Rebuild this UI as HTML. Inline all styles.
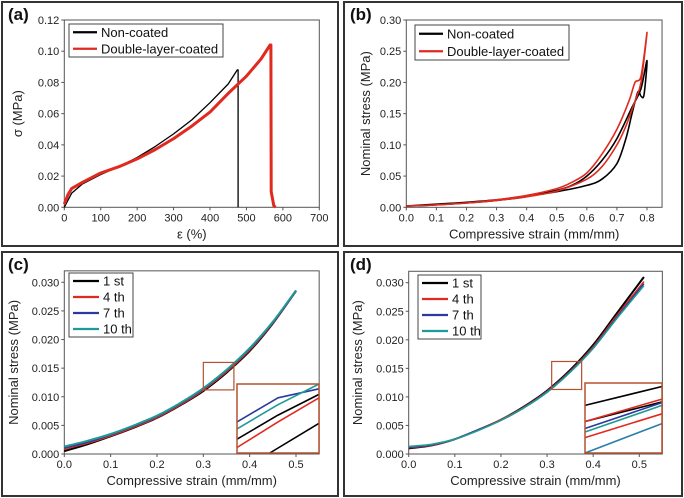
<!DOCTYPE html>
<html><head><meta charset="utf-8"><style>
html,body{margin:0;padding:0;background:#fff;}
svg{display:block;font-family:"Liberation Sans",Arial,sans-serif;}
</style></head><body>
<svg id="fig" width="684" height="498" viewBox="0 0 684 498"></svg>
<script>
// ---- Panel (a) data ----
const aNonX=[0,20,50,100,150,200,250,300,350,400,450,475,477,477];
const aNonY=[0,0.009,0.015,0.021,0.026,0.032,0.039,0.047,0.056,0.067,0.079,0.088,0.088,0];
const aDblX=[0,10,20,50,100,150,200,250,300,350,400,450,500,540,565,567,568,575,580];
const aDblY=[0.002,0.008,0.012,0.016,0.022,0.026,0.031,0.037,0.044,0.052,0.061,0.073,0.084,0.095,0.104,0.104,0.01,0.001,0];
const aXTicks=[0,100,200,300,400,500,600,700];
const aYTicks=[0,0.02,0.04,0.06,0.08,0.10,0.12];
// ---- Panel (b) data ----
const bNonX=[0,0.1,0.2,0.3,0.4,0.5,0.6,0.65,0.7,0.73,0.75,0.77,0.78,0.79,0.8,0.78,0.75,0.7,0.65,0.6,0.55,0.5,0.4,0.3,0.2,0.1,0];
const bNonY=[0.002,0.005,0.008,0.012,0.018,0.025,0.035,0.045,0.07,0.11,0.15,0.185,0.178,0.18,0.235,0.19,0.16,0.11,0.075,0.05,0.035,0.027,0.017,0.011,0.007,0.004,0.002];
const bDblX=[0,0.1,0.2,0.3,0.4,0.5,0.6,0.65,0.7,0.73,0.76,0.78,0.8,0.78,0.76,0.74,0.7,0.65,0.6,0.55,0.5,0.4,0.3,0.2,0.1,0];
const bDblY=[0.002,0.004,0.007,0.011,0.017,0.026,0.045,0.065,0.1,0.13,0.17,0.2,0.28,0.21,0.2,0.17,0.125,0.085,0.055,0.04,0.03,0.019,0.012,0.007,0.004,0.002];
const bXTicks=[0,0.1,0.2,0.3,0.4,0.5,0.6,0.7,0.8];
const bYTicks=[0,0.05,0.10,0.15,0.20,0.25,0.30];
// ---- Panel (c) data ----
const cX=[0,0.05,0.1,0.15,0.2,0.25,0.3,0.35,0.4,0.45,0.5];
const c1st=[0.0005,0.0017,0.0031,0.0046,0.0063,0.0085,0.011,0.0142,0.018,0.0228,0.0285];
const c4th=[0.0009,0.0019,0.0032,0.0047,0.0064,0.0086,0.0112,0.0144,0.0182,0.0229,0.0285];
const c7th=[0.0011,0.0021,0.0034,0.0049,0.0066,0.0088,0.0114,0.0146,0.0184,0.023,0.0285];
const c10th=[0.0013,0.0023,0.0035,0.005,0.0067,0.0089,0.0115,0.0147,0.0185,0.0231,0.0286];
const cXTicks=[0,0.1,0.2,0.3,0.4,0.5];
const cYTicks=[0,0.005,0.010,0.015,0.020,0.025,0.030];
// ---- Panel (d) data ----
const dX=[0,0.05,0.1,0.15,0.2,0.25,0.3,0.35,0.4,0.45,0.51];
const d1st=[0.001,0.0015,0.0026,0.0042,0.006,0.0083,0.0111,0.0147,0.0191,0.0245,0.031];
const d4th=[0.0011,0.0015,0.0026,0.0042,0.006,0.0082,0.011,0.0145,0.0188,0.0241,0.0302];
const d7th=[0.0012,0.0016,0.0026,0.0042,0.0059,0.0081,0.0109,0.0144,0.0186,0.0238,0.0298];
const d10th=[0.0013,0.0017,0.0026,0.0041,0.0059,0.0081,0.0108,0.0143,0.0185,0.0236,0.0295];
const dXTicks=[0,0.1,0.2,0.3,0.4,0.5];
const dYTicks=[0,0.005,0.010,0.015,0.020,0.025,0.030];
// ---- inset (zoomed) data, normalized ----
const ciX=[0,0.5,1];
const ciTeal=[0.35,0.7,1.0];
const ciBlue=[0.45,0.8,0.93];
const ciRed=[0.08,0.45,0.8];
const ciBlack=[0.2,0.55,0.85];
const ciBlackLowX=[0.4,1];
const ciBlackLow=[0,0.43];
const diX=[0,1];
const diBlack=[0.68,0.95];
const diBlack2=[0.45,0.73];
const diRed=[0.45,0.77];
const diBlue=[0.35,0.72];
const diTeal=[0.3,0.68];
const diRed2=[0.22,0.56];
const diTeal2=[0,0.42];

const NS="http://www.w3.org/2000/svg";
const svg=document.getElementById('fig');
function el(tag,attrs,parent){const e=document.createElementNS(NS,tag);for(const k in attrs)e.setAttribute(k,attrs[k]);(parent||svg).appendChild(e);return e;}
function txt(s,attrs,parent){const e=el('text',attrs,parent);e.textContent=s;return e;}

function scale(d0,d1,p0,p1){return v=>p0+(v-d0)/(d1-d0)*(p1-p0);}
function pathD(P){
  // Catmull-Rom smoothing with low tension
  let d='M'+P[0][0].toFixed(1)+','+P[0][1].toFixed(1);
  for(let i=0;i<P.length-1;i++){
    const p0=P[i-1]||P[i],p1=P[i],p2=P[i+1],p3=P[i+2]||P[i+1];
    const t=0.15;
    const c1=[p1[0]+(p2[0]-p0[0])*t,p1[1]+(p2[1]-p0[1])*t];
    const c2=[p2[0]-(p3[0]-p1[0])*t,p2[1]-(p3[1]-p1[1])*t];
    d+=` C${c1[0].toFixed(1)},${c1[1].toFixed(1)} ${c2[0].toFixed(1)},${c2[1].toFixed(1)} ${p2[0].toFixed(1)},${p2[1].toFixed(1)}`;
  }
  return d;
}
function poly(xs,ys,sx,sy,color,w,name,parent,smooth){
  const P=xs.map((x,i)=>[sx(x),sy(ys[i])]);
  let p;
  if(smooth){p=el('path',{d:pathD(P),fill:'none',stroke:color,'stroke-width':w,'stroke-linejoin':'round'},parent);}
  else{p=el('polyline',{points:P.map(q=>q[0].toFixed(1)+','+q[1].toFixed(1)).join(' '),fill:'none',stroke:color,'stroke-width':w,'stroke-linejoin':'round'},parent);}
  
  
  return p;
}

function panel(o){
  const g=el('g',{});
  
  
  const fr=el('rect',{x:o.frame[0],y:o.frame[1],width:o.frame[2],height:o.frame[3],fill:'none',stroke:'#333','stroke-width':2},g);
  
  
  const lb=txt('('+o.id+')',{x:o.frame[0]+6,y:o.frame[1]+18,'font-size':17,'font-weight':'bold',fill:'#111'},g);
  
  
  const sx=scale(o.xd[0],o.xd[1],o.px[0],o.px[1]);
  const sy=scale(o.yd[0],o.yd[1],o.py[0],o.py[1]);
  const L=sx(o.xr[0]),R=sx(o.xr[1]),B=sy(o.yr[0]),T=sy(o.yr[1]);
  const ax=el('rect',{x:L,y:T,width:R-L,height:B-T,fill:'none',stroke:'#555','stroke-width':1},g);
  
  
  o.xt.forEach(v=>{
    const X=sx(v);
    el('line',{x1:X,x2:X,y1:B,y2:B+3,stroke:'#555'},g);
    const t=txt(o.xf(v),{x:X,y:B+14,'font-size':11,'text-anchor':'middle',fill:'#222'},g);
    
    
  });
  o.yt.forEach(v=>{
    const Y=sy(v);
    el('line',{x1:L-3,x2:L,y1:Y,y2:Y,stroke:'#555'},g);
    const t=txt(o.yf(v),{x:L-5,y:Y+4,'font-size':11,'text-anchor':'end',fill:'#222'},g);
    
    
  });
  const xt=txt(o.xl,{x:(L+R)/2,y:B+31,'font-size':13,'text-anchor':'middle',fill:'#222'},g);
  
  
  const yx=o.ylx, yy=(T+B)/2;
  const yt=txt(o.yl,{x:yx,y:yy,'font-size':13,'text-anchor':'middle',fill:'#222',transform:`rotate(-90 ${yx} ${yy})`},g);
  
  
  o.series.forEach(s=>poly(s.x,s.y,sx,sy,s.c,s.w,'series-'+s.n,g,o.smooth));
  const lg=o.legend;
  const lr=el('rect',{x:lg[0],y:lg[1],width:lg[2],height:lg[3],fill:'#fff',stroke:'#444','stroke-width':1},g);
  
  
  const step=lg[3]/o.series.length;
  o.series.forEach((s,i)=>{
    const yy=lg[1]+step*(i+0.5);
    el('line',{x1:lg[0]+4,x2:lg[0]+lg[4],y1:yy,y2:yy,stroke:s.c,'stroke-width':2.2},g);
    const t=txt(s.n,{x:lg[0]+lg[4]+4,y:yy+4.5,'font-size':13,fill:'#111'},g);
    
    
  });
  if(o.inset){
    const z=o.inset;
    const zb=el('rect',{x:sx(z.box[0]),y:sy(z.box[3]),width:sx(z.box[1])-sx(z.box[0]),height:sy(z.box[2])-sy(z.box[3]),fill:'none',stroke:'#b5502f','stroke-width':1.2},g);
    
    
    const r=z.rect;
    el('rect',{x:r[0],y:r[1],width:r[2],height:r[3],fill:'#fff'},g);
    const ig=el('g',{},g);
    
    
    const ix=scale(0,1,r[0],r[0]+r[2]), iy=scale(0,1,r[1]+r[3],r[1]);
    z.lines.forEach(l=>poly(l.x,l.y,ix,iy,l.c,1.6,'inset-line',ig,false));
    el('rect',{x:r[0],y:r[1],width:r[2],height:r[3],fill:'none',stroke:'#b5502f','stroke-width':1.5},ig);
  }
}
const f2=v=>v.toFixed(2), f1=v=>v.toFixed(1), f3=v=>v.toFixed(3), f0=v=>String(v);
const K='#000',RD='#e02a1f',BL='#2b3a9c',TL='#1f9a96';
panel({id:'a',frame:[2,2,336,244],xd:[0,700],px:[64.3,319.3],yd:[0,0.12],py:[207.3,20],xr:[0,700],yr:[0,0.12],
  xt:aXTicks,yt:aYTicks,xf:f0,yf:f2,xl:'ε (%)',yl:'σ (MPa)',ylx:22,smooth:false,
  series:[{n:'Non-coated',x:aNonX,y:aNonY,c:K,w:1.3},{n:'Double-layer-coated',x:aDblX,y:aDblY,c:RD,w:3}],
  legend:[69,24,154,33,28]});
panel({id:'b',frame:[344,2,338,244],xd:[0,0.8],px:[406.3,647],yd:[0,0.30],py:[207.3,20],xr:[0,0.85],yr:[0,0.30],
  xt:bXTicks,yt:bYTicks,xf:f1,yf:f2,xl:'Compressive strain (mm/mm)',yl:'Nominal stress (MPa)',ylx:370,smooth:true,
  series:[{n:'Non-coated',x:bNonX,y:bNonY,c:K,w:1.6},{n:'Double-layer-coated',x:bDblX,y:bDblY,c:RD,w:1.6}],
  legend:[415,25,154,35,28]});
panel({id:'c',frame:[2,252,336,244],xd:[0,0.5],px:[64.3,296],yd:[0,0.030],py:[454,282.3],xr:[0,0.55],yr:[0,0.032],
  xt:cXTicks,yt:cYTicks,xf:f1,yf:f3,xl:'Compressive strain (mm/mm)',yl:'Nominal stress (MPa)',ylx:18,smooth:true,
  series:[{n:'1 st',x:cX,y:c1st,c:K,w:2},{n:'4 th',x:cX,y:c4th,c:RD,w:2},{n:'7 th',x:cX,y:c7th,c:BL,w:2},{n:'10 th',x:cX,y:c10th,c:TL,w:2}],
  legend:[69,273,64,64,30],
  inset:{box:[0.30,0.366,0.0112,0.0160],rect:[237,384,82,69],lines:[
    {x:ciX,y:ciBlack,c:K},{x:ciX,y:ciRed,c:RD},{x:ciX,y:ciBlue,c:BL},{x:ciX,y:ciTeal,c:TL},{x:ciBlackLowX,y:ciBlackLow,c:K}]}});
panel({id:'d',frame:[344,252,338,244],xd:[0,0.5],px:[408.7,639.3],yd:[0,0.030],py:[454,282.7],xr:[0,0.55],yr:[0,0.032],
  xt:dXTicks,yt:dYTicks,xf:f1,yf:f3,xl:'Compressive strain (mm/mm)',yl:'Nominal stress (MPa)',ylx:362,smooth:true,
  series:[{n:'1 st',x:dX,y:d1st,c:K,w:2},{n:'4 th',x:dX,y:d4th,c:RD,w:1.6},{n:'7 th',x:dX,y:d7th,c:BL,w:1.6},{n:'10 th',x:dX,y:d10th,c:TL,w:1.6}],
  legend:[418,275,63,64,30],
  inset:{box:[0.31,0.375,0.0113,0.0162],rect:[585,383,77,70],lines:[
    {x:diX,y:diBlack,c:K},{x:diX,y:diBlack2,c:K},{x:diX,y:diRed,c:RD},{x:diX,y:diBlue,c:BL},{x:diX,y:diTeal,c:TL},{x:diX,y:diRed2,c:RD},{x:diX,y:diTeal2,c:'#2a7fa8'}]}});
</script>
</body></html>
